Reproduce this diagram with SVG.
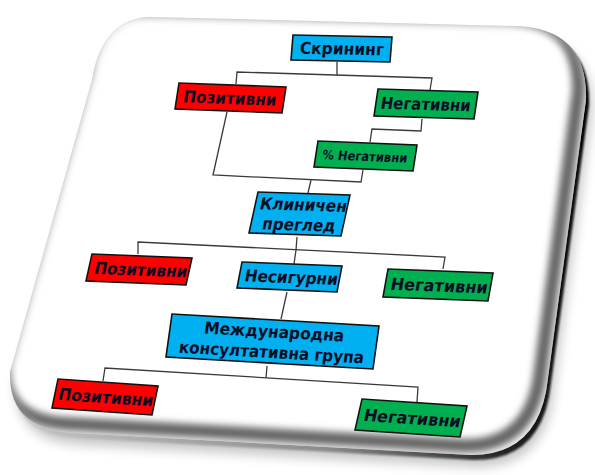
<svg xmlns="http://www.w3.org/2000/svg" width="595" height="475" viewBox="0 0 595 475">
<defs>
<filter id="blur6" x="-20%" y="-20%" width="140%" height="140%"><feGaussianBlur stdDeviation="6"/></filter>
<filter id="blur3" x="-20%" y="-20%" width="140%" height="140%"><feGaussianBlur stdDeviation="3.5"/></filter>
<filter id="blur1" x="-10%" y="-10%" width="120%" height="120%"><feGaussianBlur stdDeviation="1.2"/></filter>
<linearGradient id="rim" gradientUnits="userSpaceOnUse" x1="0" y1="0" x2="595" y2="0">
<stop offset="0" stop-color="#c8c8c8"/><stop offset="0.55" stop-color="#8a8a8a"/><stop offset="0.85" stop-color="#222"/><stop offset="1" stop-color="#000"/>
</linearGradient>
<path id="card" d="M 150,17 L 515,26 Q 588,28 586,100 L 548,378 Q 540,456 470,455 L 75,433 Q 8,430 10,372 L 92,80 Q 102,18 150,17 Z"/>
<clipPath id="faceClip"><use href="#card"/></clipPath>
<style>
.box{stroke:#111;stroke-width:1.6}
.blue{fill:#00B0F0}.red{fill:#FF0000}.green{fill:#00B050}
.t{font-family:"DejaVu Sans","Liberation Sans",sans-serif;font-weight:bold;font-size:16.5px;fill:#0d0d26;text-anchor:middle}
.s{font-size:13px}
.ln{fill:none;stroke:#3a3a3a;stroke-width:1.3}
</style>
</defs>
<g id="card-bg">
<use href="#card" transform="translate(6,12)" fill="#000" opacity="0.22" filter="url(#blur6)"/>
<use href="#card" transform="translate(3,5)" fill="url(#rim)" filter="url(#blur1)"/>
<use href="#card" fill="#fff"/>
<g clip-path="url(#faceClip)">
<use href="#card" transform="translate(-7,-9)" fill="none" stroke="#666" stroke-width="14" filter="url(#blur3)"/>
<use href="#card" fill="none" stroke="#d0d0d0" stroke-width="2" filter="url(#blur3)"/>
</g>
</g>
<g id="connectors" class="ln">
<polyline points="337,62 337,75"/>
<polyline points="236,84 237,72 432,78 430,90"/>
<polyline points="227,112 213,175 361,182 363,170"/>
<polyline points="422,119 421,131 372,129 370,142"/>
<polyline points="311,180 308,193"/>
<polyline points="297,237 296,250"/>
<polyline points="138,254 138,242 445,257 443,269"/>
<polyline points="296,250 294,264"/>
<polyline points="287,292 281,319"/>
<polyline points="267,366 266,378"/>
<polyline points="103,381 105,368 418,387 417,402"/>
</g>
<g id="n-skrining" transform="matrix(1,0.0202,-0.08,1,293,35)">
<rect class="box blue" width="99" height="25"/>
<text class="t" x="50" y="18.5" textLength="84" lengthAdjust="spacingAndGlyphs">Скрининг</text>
</g>
<g id="n-poz1" transform="matrix(1,0.0374,-0.154,1,179,83)">
<rect class="box red" width="107" height="26"/>
<text class="t" x="53" y="19" textLength="93" lengthAdjust="spacingAndGlyphs">Позитивни</text>
</g>
<g id="n-neg1" transform="matrix(1,0.03,-0.148,1,378,89)">
<rect class="box green" width="100" height="27"/>
<text class="t" x="50" y="19.5" textLength="90" lengthAdjust="spacingAndGlyphs">Негативни</text>
</g>
<g id="n-pneg" transform="matrix(1,0.0404,-0.154,1,318,141)">
<rect class="box green" width="99" height="26"/>
<text class="t s" x="49" y="18" textLength="85" lengthAdjust="spacingAndGlyphs">% Негативни</text>
</g>
<g id="n-klinichen" transform="matrix(1,0.0326,-0.22,1,258,192)">
<rect class="box blue" width="92" height="41"/>
<text class="t" x="48" y="17" textLength="87" lengthAdjust="spacingAndGlyphs">Клиничен</text>
<text class="t" x="48" y="37" textLength="73" lengthAdjust="spacingAndGlyphs">преглед</text>
</g>
<g id="n-poz2" transform="matrix(1,0.04,-0.222,1,92,254)">
<rect class="box red" width="100" height="27"/>
<text class="t" x="52" y="19.5" textLength="93" lengthAdjust="spacingAndGlyphs">Позитивни</text>
</g>
<g id="n-nesig" transform="matrix(1,0.04,-0.192,1,242,262)">
<rect class="box blue" width="100" height="26"/>
<text class="t" x="52" y="19" textLength="93" lengthAdjust="spacingAndGlyphs">Несигурни</text>
</g>
<g id="n-neg2" transform="matrix(1,0.038,-0.179,1,388,269)">
<rect class="box green" width="105" height="28"/>
<text class="t" x="54" y="20.5" textLength="97" lengthAdjust="spacingAndGlyphs">Негативни</text>
</g>
<g id="n-mkg" transform="matrix(1,0.058,-0.14,1,172,314)">
<rect class="box blue" width="207" height="43"/>
<text class="t" x="104" y="17.5" textLength="140" lengthAdjust="spacingAndGlyphs">Международна</text>
<text class="t" x="104" y="38" textLength="185" lengthAdjust="spacingAndGlyphs">консултативна група</text>
</g>
<g id="n-poz3" transform="matrix(1,0.07,-0.207,1,58,379)">
<rect class="box red" width="100" height="29"/>
<text class="t" x="51" y="20.5" textLength="95" lengthAdjust="spacingAndGlyphs">Позитивни</text>
</g>
<g id="n-neg3" transform="matrix(1,0.0667,-0.226,1,362,399)">
<rect class="box green" width="105" height="31"/>
<text class="t" x="54" y="21.5" textLength="97" lengthAdjust="spacingAndGlyphs">Негативни</text>
</g>
</svg>
